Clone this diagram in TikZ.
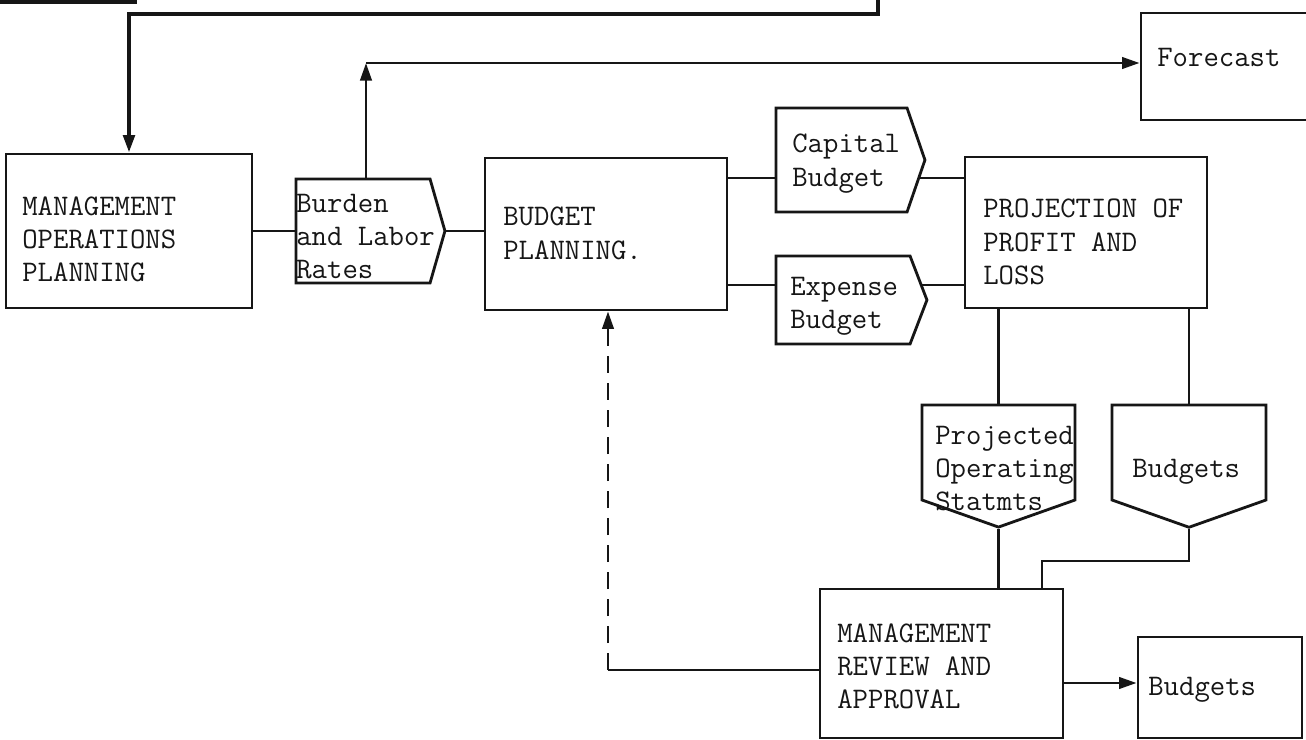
\documentclass[tikz,border=0pt]{standalone}
\usepackage{tikz}
\usetikzlibrary{arrows.meta,shapes.symbols,backgrounds}
\definecolor{ink}{RGB}{22,22,22}
\tikzset{
  procnode/.style={rectangle,draw=ink,line width=1.6pt,fill=white,inner sep=0pt},
  datanode/.style={signal,signal from=nowhere,draw=ink,line width=1.6pt,fill=white,inner sep=0pt},
  typetext/.style={font=\ttfamily\fontsize{17pt}{18.8pt}\selectfont,text=ink,align=left,inner sep=0pt,anchor=north west},
  flowline/.style={draw=ink,line width=1.6pt},
  flowarrow/.style={flowline,-{Triangle[length=10pt,width=6.5pt]}},
  reviewarrow/.style={flowarrow,dash pattern=on 3.4mm off 2mm}
}

\begin{document}
\begin{tikzpicture}[x=0.2mm,y=-0.2mm]
  \useasboundingbox (0,0) rectangle (1306,740);
  % boxes
  \node[procnode,line width=2.2pt,minimum width=31mm,minimum height=12.4mm] (prior) at (57.5,-29) {};
  \node[procnode,minimum width=49.2mm,minimum height=30.8mm] (mop) at (129,231) {};
  \node[datanode,signal to=east,signal pointer angle=148,minimum width=29.8mm,minimum height=20.8mm] (burden) at (363,231) {};
  \node[procnode,minimum width=48.4mm,minimum height=30.4mm] (bp) at (606,234) {};
  \node[datanode,signal to=east,signal pointer angle=142,minimum width=29.8mm,minimum height=20.8mm] (capital) at (841.5,160) {};
  \node[datanode,signal to=east,signal pointer angle=138,minimum width=30.2mm,minimum height=17.6mm] (expense) at (843,300) {};
  \node[procnode,minimum width=48.4mm,minimum height=30.2mm] (ppl) at (1086,232.5) {};
  \node[procnode,minimum width=37.8mm,minimum height=21.4mm] (forecast) at (1235.5,66.5) {};
  \node[datanode,signal to=south,signal pointer angle=141,minimum width=30.6mm,minimum height=19mm] (proj) at (998.5,452.5) {};
  \node[datanode,signal to=south,signal pointer angle=141,minimum width=30.8mm,minimum height=19mm] (budgetsa) at (1189,452.5) {};
  \node[procnode,minimum width=48.6mm,minimum height=29.8mm] (mra) at (941.5,663.5) {};
  \node[procnode,minimum width=32.8mm,minimum height=20.2mm] (budgetsb) at (1220,687.5) {};
  % texts
  \node[typetext] (moptext) at (22,196) {MANAGEMENT\\OPERATIONS\\PLANNING};
  \node[typetext] (burdentext) at (296,194) {Burden\\and Labor\\Rates};
  \node[typetext] (bptext) at (503,207) {BUDGET\\PLANNING.};
  \node[typetext] (captext) at (792,134) {Capital\\Budget};
  \node[typetext] (exptext) at (790,277) {Expense\\Budget};
  \node[typetext] (ppltext) at (983,199) {PROJECTION OF\\PROFIT AND\\LOSS};
  \node[typetext] (fctext) at (1157,48) {Forecast};
  \node[typetext] (projtext) at (935,426) {Projected\\Operating\\Statmts};
  \node[typetext] (budatext) at (1132,459) {Budgets};
  \node[typetext] (mratext) at (837,623) {MANAGEMENT\\REVIEW AND\\APPROVAL};
  \node[typetext] (budbtext) at (1148,677) {Budgets};
  \begin{scope}[on background layer]
    \fill[white] (0,0) rectangle (1306,740);
    \coordinate (topin) at (878,-10);
    \coordinate (topcorner) at (129,14);
    \draw[flowarrow,line width=2.2pt] (topin) |- (topcorner) -- (mop.north);
    \draw[flowline] (mop.east) -- (burden.west);
    \draw[flowline] (burden.east) -- (bp.west |- burden.east);
    \coordinate (fccorner) at (366,63);
    \draw[flowarrow] (burden.north -| fccorner) -- (fccorner);
    \draw[flowarrow] (fccorner) -- (forecast.west |- fccorner);
    \draw[flowline] (bp.east |- 0,178) -- (capital.west |- 0,178);
    \draw[flowline] (capital.center |- 0,178) -- (ppl.west |- 0,178);
    \draw[flowline] (bp.east |- 0,285) -- (expense.west |- 0,285);
    \draw[flowline] (expense.center |- 0,285) -- (ppl.west |- 0,285);
    \draw[flowline] (proj.north |- ppl.south) -- (proj.north);
    \draw[flowline] (budgetsa.north |- ppl.south) -- (budgetsa.north);
    \draw[flowline] (proj.south) -- (proj.south |- mra.north);
    \coordinate (budjoin) at (1042,561);
    \draw[flowline] (budgetsa.south) |- (budjoin) -- (budjoin |- mra.north);
    \draw[flowarrow] (mra.east |- 0,683) -- (budgetsb.west |- 0,683);
    \coordinate (reviewcorner) at (608,670);
    \draw[flowline] (mra.west |- reviewcorner) -- (reviewcorner);
    \draw[reviewarrow] (reviewcorner) -- (reviewcorner |- bp.south);
  \end{scope}
\end{tikzpicture}
\end{document}
